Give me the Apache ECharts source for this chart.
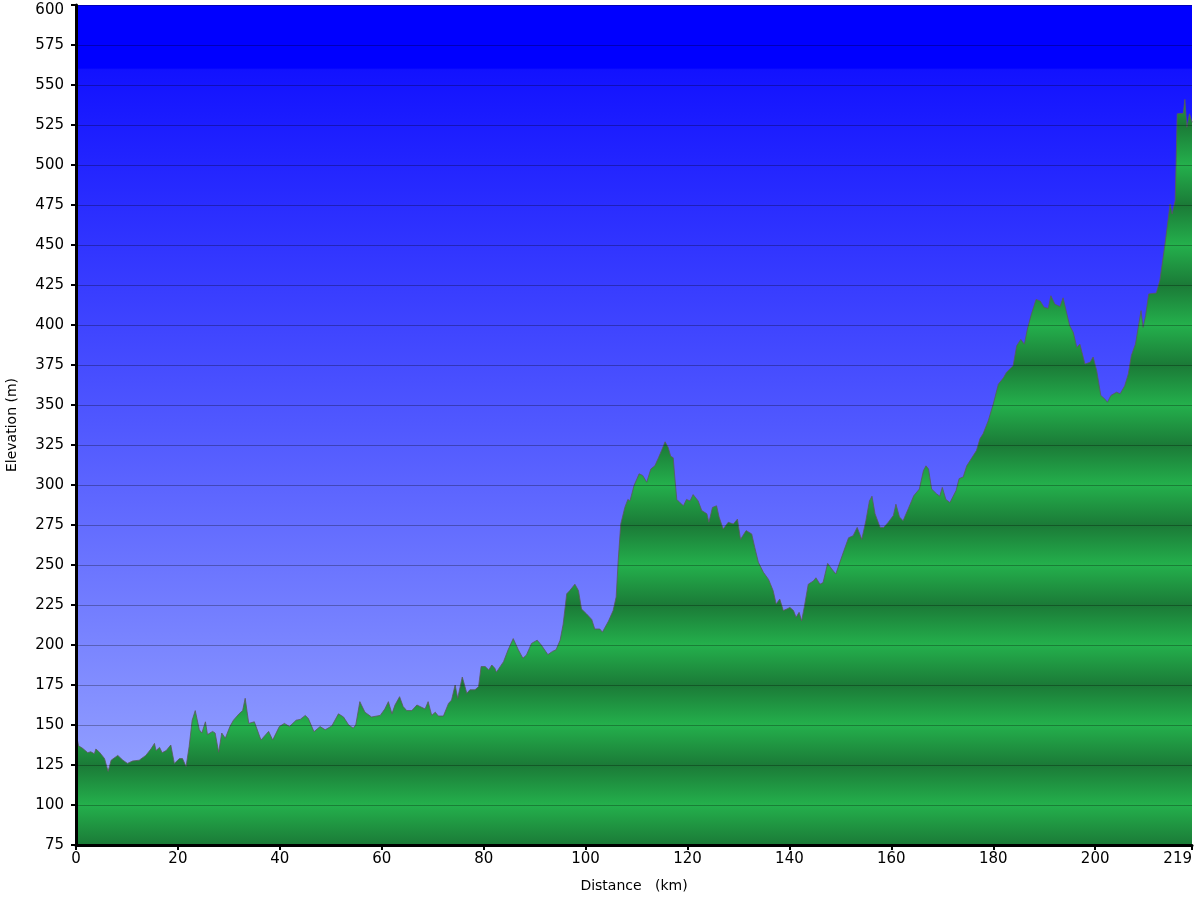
<!DOCTYPE html>
<html>
<head>
<meta charset="utf-8">
<script src="https://cdn.jsdelivr.net/npm/echarts@6/dist/echarts.min.js"></script>
<style>html,body{margin:0;padding:0;background:#fff;}#c{width:1200px;height:900px;}</style>
</head>
<body>
<div id="c"></div>
<script>
// Distance (km)
const dist = [0,0.5,1.3,2.3,2.9,3.6,3.9,4.6,5.6,6.3,6.9,8.2,9.2,10.1,11.1,12.4,13.7,14.7,15.4,15.7,16.4,16.9,17.7,18.6,19.3,20.3,20.9,21.6,22.2,22.8,23.4,24.2,24.7,25.4,25.8,26.8,27.3,28,28.6,29.3,30.2,30.9,32,32.7,33.2,33.9,35,36.3,37.8,38.6,39.9,40.9,41.9,43.2,44,45,45.6,46.7,47.9,48.9,50.2,51.5,52.5,53.5,54.4,54.9,55.7,56.7,58,59.7,60.6,61.3,62,62.6,63.5,64.2,64.9,65.9,66.9,68.5,69.1,69.8,70.5,71.1,72.1,73.1,73.7,74.4,74.9,75.8,76.7,77.3,78.3,79,79.5,80.3,81,81.6,82.2,82.5,83.9,84.8,85.8,86.8,87.7,88.4,89.4,90.5,91.3,92.6,93.5,94.2,95,95.6,96.3,96.9,97.9,98.6,99.2,100.2,101.2,101.8,102.8,103.3,104.5,105.4,106,106.4,106.9,107.7,108.3,108.7,109.5,110.5,111.2,112,112.8,113.6,114.3,114.9,115.6,116.2,116.7,117.2,117.5,117.9,118.5,119.2,119.8,120.5,121.1,122.1,122.8,123.8,124.2,124.9,125.7,126.2,127,128,129,129.8,130.4,131.5,132.6,133.2,133.9,134.9,135.9,136.8,137.4,138.1,138.8,139.5,140.1,140.8,141.3,141.9,142.4,142.9,143.7,144.7,145.2,146,146.6,147.5,148.3,149.1,149.9,150.7,151.6,152.5,153.3,154.2,155,155.7,156.2,156.8,157.8,158.5,159.4,160.4,160.9,161.6,162.3,163.3,164.4,165.5,166.3,166.8,167.3,167.9,168.9,169.5,170,170.7,171.5,172.7,173.3,174.1,174.8,175.8,176.7,177.4,178,179,180,181,182,182.6,183.9,184.6,185.4,186.1,186.7,187.5,188.4,189.2,190,190.8,191.3,192.1,193.1,193.7,195,195.7,196.4,197,198,199,199.6,200.3,201.1,201.9,202.4,203.1,204.2,204.9,205.8,206.5,207.1,207.9,209,209.4,209.9,210.5,212,212.7,213.7,214.7,215.1,215.7,216.1,217.3,217.6,218,218.5,219];
// Elevation (m)
const elev = [145,137,135.4,132.7,133.3,132,135,133,129,121,128,131,128,126,127.5,128,131,135,138.5,134,136,132.7,134,137.5,126,129,129,124,136.5,153,159,147,145,152,144,146,145,133,145,141.7,149,153,157,159,166.7,151,152,140.6,146,140.6,149,151,149,153,153.5,156,154,145.8,149,147,149.4,157,155,150,148,150,164.6,158,155,156,160,164.6,157,162.5,167.7,161.5,159,159,162.5,160,164.6,156,158,155.6,155.6,163.5,165.6,175,166.7,180,169.8,172,172,174,186.5,186.5,184.4,187.5,185.4,183,189.6,197,204,197,191.7,193.8,201,203,200,194,196,197,203,213,232,234,238,234,222.5,219.4,216,210,210,208,215,221.5,230,252.7,275.6,286,291,290,299.6,307,306,301.7,310,312,317,321.5,327,323.5,318,317,305,291,289,287,291,290,294,290,284,282,276.7,286,287,280,272.5,276.7,275.6,278.7,266,271.5,269.4,261,251.7,245.4,241,234,225.6,228.7,221.5,222.5,223.5,221.5,217.3,220.4,215,223.5,238,240,242,238,239,251,247.5,244.4,251.7,259,267,268.3,273.5,266,277.7,290,293,282,273.5,273.5,276.7,281,288,280,277.7,285,293.3,297.5,309,312,310,297.5,294.4,293,298.5,291,289,296.5,304,305,312,317,321.5,329,332,340,350.6,363,367,370.4,374.6,387,391,388,397.5,407,416,415,411,410.4,418.3,413,411.5,417,399.6,395.4,386,388,375.6,376.7,380,371.5,356,353.7,351.7,356,358,357,362,369.4,381,388,409,398.5,406,419.4,420,428,450.6,475.6,469.4,477.7,532,532.3,541,523.5,532,526.7];
// Axis ticks
const yMin = 75, yMax = 600, yStep = 25;
const xMin = 0, xMax = 219, xStep = 20;

const data = dist.map((d, i) => [d, elev[i]]);

// periodic green banding (dark at 75+50k, light at 100+50k), global pixel coords
const plotTop = 5, plotBottom = 845;
const bandStops = [];
const darkGreen = '#1b7a37', lightGreen = '#24b04c';
for (let v = yMax; v >= yMin; v -= 25) {
  const frac = (yMax - v) / (yMax - yMin);
  const isDark = ((v - 75) % 50) === 0;
  bandStops.push({ offset: frac, color: isDark ? darkGreen : lightGreen });
}

const chart = echarts.init(document.getElementById('c'), null, { renderer: 'canvas' });
chart.setOption({
  animation: false,
  backgroundColor: '#ffffff',
  grid: {
    left: 76, right: 8, top: plotTop, bottom: 900 - plotBottom,
    containLabel: false,
    outerBoundsMode: 'none',
    show: true,
    borderWidth: 0,
    backgroundColor: new echarts.graphic.LinearGradient(0, 0, 0, 1, [
      { offset: 0, color: '#0000ff' },
      { offset: 0.075, color: '#0000ff' },
      { offset: 0.077, color: '#1212ff' },
      { offset: 0.5, color: '#5058ff' },
      { offset: 1, color: '#a0aeff' }
    ])
  },
  xAxis: {
    type: 'value',
    min: xMin, max: xMax, interval: xStep,
    name: 'Distance   (km)',
    nameLocation: 'middle',
    nameGap: 34,
    nameTextStyle: { fontFamily: 'DejaVu Sans', fontSize: 14, color: '#000' },
    axisLine: { show: true, lineStyle: { color: '#000', width: 3 } },
    axisTick: { show: true, length: 5, lineStyle: { color: '#000', width: 2 } },
    axisLabel: { color: '#000', fontFamily: 'DejaVu Sans', fontSize: 15, margin: 7, showMaxLabel: true, showMinLabel: true, alignMaxLabel: 'right' },
    splitLine: { show: false },
    z: 10
  },
  yAxis: {
    type: 'value',
    min: yMin, max: yMax, interval: yStep,
    name: 'Elevation (m)',
    nameLocation: 'middle',
    nameGap: 57,
    nameRotate: 90,
    nameTextStyle: { fontFamily: 'DejaVu Sans', fontSize: 14, color: '#000' },
    axisLine: { show: true, lineStyle: { color: '#000', width: 3 } },
    axisTick: { show: true, length: 5, lineStyle: { color: '#000', width: 2 } },
    axisLabel: {
      color: '#000', fontFamily: 'DejaVu Sans', fontSize: 15, margin: 12,
      formatter: (v) => v === yMax ? '{t|' + v + '}' : String(v),
      rich: { t: { color: '#000', fontFamily: 'DejaVu Sans', fontSize: 15, padding: [10, 0, 0, 0] } }
    },
    splitLine: { show: true, lineStyle: { color: 'rgba(0,0,0,0.28)', width: 1 } },
    z: 10
  },
  series: [{
    type: 'line',
    data: data,
    showSymbol: false,
    symbol: 'none',
    lineStyle: { color: '#5a5a5a', width: 1, opacity: 0.8 },
    areaStyle: {
      origin: 'start',
      opacity: 1,
      color: new echarts.graphic.LinearGradient(0, plotTop, 0, plotBottom, bandStops, true)
    },
    z: 2
  }]
});
</script>
</body>
</html>
